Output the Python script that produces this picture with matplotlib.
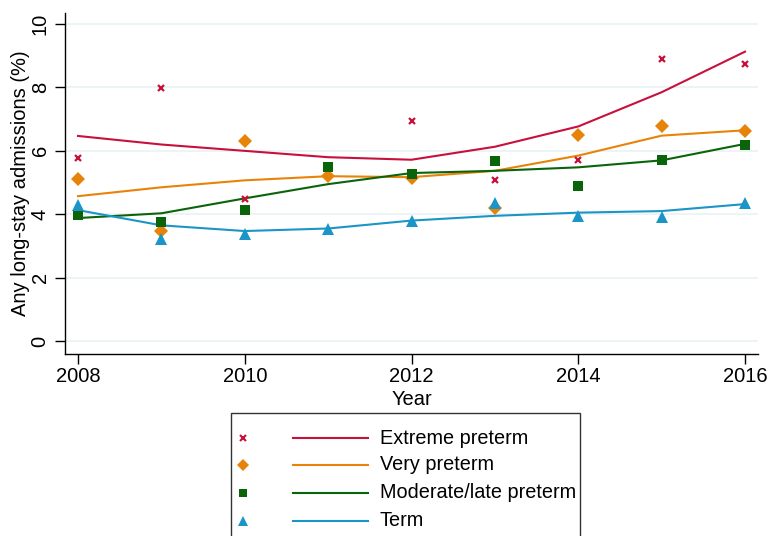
import matplotlib
matplotlib.use("Agg")
import matplotlib.pyplot as plt
from matplotlib.lines import Line2D
from matplotlib.patches import Rectangle

plt.rcParams['font.family'] = ['Liberation Sans', 'DejaVu Sans']

years = [2008, 2009, 2010, 2011, 2012, 2013, 2014, 2015, 2016]
years_extreme = [2008, 2009, 2010, 2012, 2013, 2014, 2015, 2016]

# observed rates
extreme_obs = [5.78, 7.97, 4.47, 6.95, 5.07, 5.70, 8.90, 8.75]
very_obs = [5.10, 3.48, 6.30, 5.22, 5.13, 4.20, 6.50, 6.77, 6.62]
moderate_obs = [3.97, 3.77, 4.12, 5.50, 5.27, 5.67, 4.88, 5.72, 6.20]
term_obs = [4.30, 3.22, 3.37, 3.53, 3.80, 4.37, 3.95, 3.92, 4.37]

# fitted trends
extreme_fit = [6.47, 6.20, 6.00, 5.80, 5.72, 6.13, 6.77, 7.85, 9.13]
very_fit = [4.57, 4.85, 5.07, 5.20, 5.17, 5.37, 5.85, 6.48, 6.65]
moderate_fit = [3.88, 4.03, 4.50, 4.95, 5.30, 5.37, 5.48, 5.70, 6.22]
term_fit = [4.13, 3.65, 3.47, 3.55, 3.80, 3.95, 4.05, 4.10, 4.32]

labels = ['Extreme preterm', 'Very preterm', 'Moderate/late preterm', 'Term']
colors = ['#c8103c', '#e8830a', '#0a640a', '#1b95c7']
markers = ['x', 'D', 's', '^']
msizes = [5, 7, 7, 8]

fig = plt.figure(figsize=(7.69, 5.36), dpi=100)
ax = fig.add_axes([65 / 769, 1 - 354 / 536, (758 - 65) / 769, (354 - 13) / 536])

obs = [(years_extreme, extreme_obs), (years, very_obs), (years, moderate_obs), (years, term_obs)]
fits = [extreme_fit, very_fit, moderate_fit, term_fit]

for (xs, ys), fit, c, m, ms in zip(obs, fits, colors, markers, msizes):
    ax.plot(years, fit, color=c, lw=1.5, zorder=3)
    if m == 'x':
        ax.plot(xs, ys, ls='none', marker=m, color=c, ms=ms, mew=1.6, zorder=4)
    else:
        ax.plot(xs, ys, ls='none', marker=m, color=c, ms=ms, mew=0, zorder=4)

ax.set_xlim(2007.844, 2016.156)
ax.set_ylim(-0.41, 10.35)
ax.set_xticks([2008, 2010, 2012, 2014, 2016])
ax.set_yticks([0, 2, 4, 6, 8, 10])
ax.grid(axis='y', color='#eaf2f3', lw=1.2)
ax.set_axisbelow(True)
for s in ['top', 'right']:
    ax.spines[s].set_visible(False)
for s in ['left', 'bottom']:
    ax.spines[s].set_linewidth(1.0)
ax.tick_params(axis='both', direction='out', length=7, width=1, labelsize=14.5)
ax.tick_params(axis='x', pad=2)
ax.tick_params(axis='y', pad=4)
for lbl in ax.get_yticklabels():
    lbl.set_rotation(90)
    lbl.set_va('center')
ax.set_xlabel('Year', fontsize=14.5, labelpad=3)
ax.set_ylabel('Any long-stay admissions (%)', fontsize=14.5, va='center')
ax.yaxis.set_label_coords(-0.0635, 0.5)

# legend box drawn by hand
lax = fig.add_axes([0, 0, 1, 1], facecolor='none')
lax.set_xlim(0, 769)
lax.set_ylim(536, 0)
lax.axis('off')
lax.add_patch(Rectangle((231, 413), 349, 130, fill=False, ec='#333333', lw=1.0))
rows = [438, 465, 493, 521]
for lab, c, m, ms, yy in zip(labels, colors, markers, msizes, rows):
    if m == 'x':
        lax.plot([243], [yy], ls='none', marker=m, color=c, ms=ms - 0.5, mew=1.5)
    else:
        lax.plot([243], [yy], ls='none', marker=m, color=c, ms=ms - 1, mew=0)
    lax.add_line(Line2D([293, 368], [yy, yy], color=c, lw=1.5))
    lax.text(380, yy, lab, fontsize=14.3, va='center', ha='left')

fig.savefig('out.png', dpi=100)
